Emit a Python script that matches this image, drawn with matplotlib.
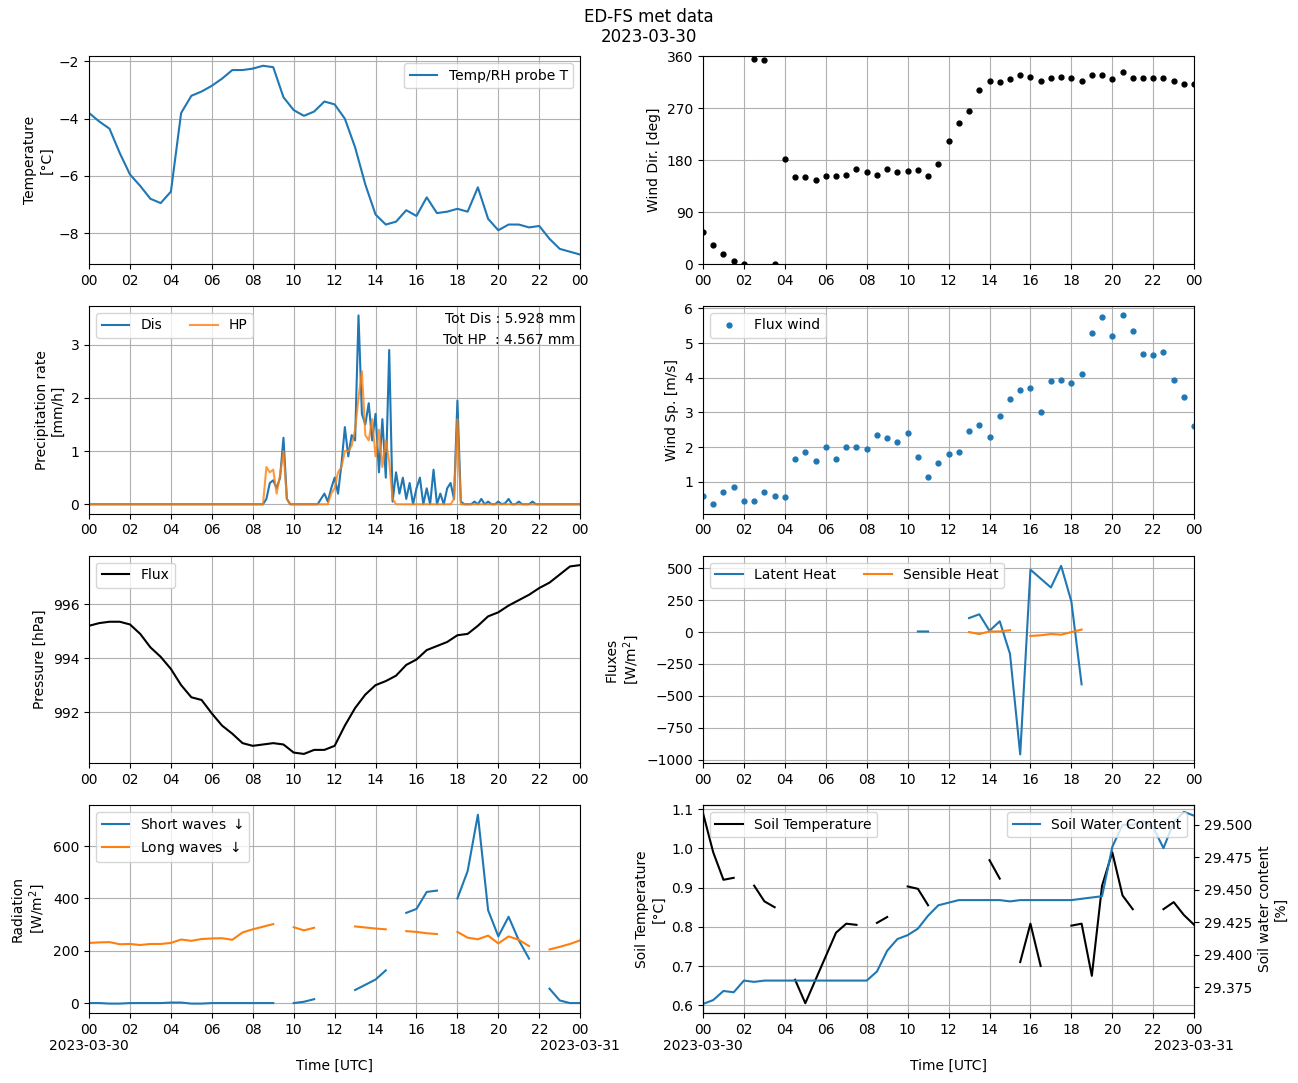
import numpy as np
import pandas as pd
import matplotlib
matplotlib.use("Agg")
import matplotlib.pyplot as plt
import matplotlib.dates as mdates
from matplotlib.ticker import FuncFormatter

nan = np.nan
t30 = pd.date_range("2023-03-30 00:00", "2023-03-31 00:00", freq="30min")

temp = [-3.8, -4.1, -4.35, -5.2, -5.95, -6.35, -6.8, -6.95, -6.55, -3.8, -3.2, -3.05, -2.85, -2.6,
        -2.3, -2.3, -2.25, -2.15, -2.2, -3.25, -3.7, -3.9, -3.75, -3.4, -3.5, -4.0, -5.0, -6.3,
        -7.35, -7.7, -7.6, -7.2, -7.4, -6.75, -7.3, -7.25, -7.15, -7.25, -6.4, -7.5, -7.9, -7.7,
        -7.7, -7.8, -7.75, -8.2, -8.55, -8.65, -8.75]

wdir = [55, 33, 18, 5, 0, 355, 353, 0, 182, 150, 150, 145, 153, 152, 155, 165, 160, 155, 165, 160,
        162, 163, 153, 173, 213, 245, 265, 302, 317, 315, 320, 328, 325, 318, 322, 325, 323, 317,
        327, 327, 320, 333, 322, 322, 322, 322, 318, 312, 312]

wspd = [0.6, 0.35, 0.7, 0.85, 0.45, 0.45, 0.7, 0.6, 0.55, 1.65, 1.85, 1.6, 2.0, 1.65, 2.0, 2.0,
        1.95, 2.35, 2.25, 2.15, 2.4, 1.7, 1.15, 1.55, 1.8, 1.85, 2.45, 2.65, 2.3, 2.9, 3.4, 3.65,
        3.7, 3.0, 3.9, 3.95, 3.85, 4.1, 5.3, 5.75, 5.2, 5.8, 5.35, 4.7, 4.65, 4.75, 3.95, 3.45, 2.6]

pres = [995.2, 995.3, 995.35, 995.35, 995.25, 994.9, 994.4, 994.05, 993.6, 993.0, 992.55, 992.45,
        991.95, 991.5, 991.2, 990.85, 990.75, 990.8, 990.85, 990.8, 990.5, 990.45, 990.6, 990.6,
        990.75, 991.5, 992.15, 992.65, 993.0, 993.15, 993.35, 993.75, 993.95, 994.3, 994.45, 994.6,
        994.85, 994.9, 995.2, 995.55, 995.7, 995.95, 996.15, 996.35, 996.6, 996.8, 997.1, 997.4, 997.45]

latent = [nan] * 21 + [5, 5, nan, nan, nan, 110, 140, 10, 85, -170, -960, 490, 420, 350, 520, 240,
                       -410] + [nan] * 11
sensible = [nan] * 26 + [0, -15, 5, 5, 15, nan, -30, -25, -15, -20, 0, 20] + [nan] * 11

sw = [0, 0, -2, -2, 0, 0, 0, 0, 2, 2, -2, -2, 0, 0, 0, 0, 0, 0, 0, nan, 0, 5, 15, nan, nan, nan,
      50, 70, 90, 125, nan, 345, 360, 425, 430, nan, 400, 505, 720, 355, 255, 330, 240, 170, nan,
      55, 10, 0, 0]
lw = [230, 232, 233, 225, 226, 222, 226, 226, 230, 243, 238, 245, 247, 248, 242, 270, 282, 292,
      302, nan, 290, 278, 288, nan, nan, nan, 293, 289, 285, 282, nan, 275, 272, 267, 264, nan,
      272, 250, 244, 258, 228, 255, 242, 218, nan, 205, 215, 226, 240]

soil_t = [1.09, 0.99, 0.92, 0.925, nan, 0.905, 0.865, 0.85, nan, 0.665, 0.605, 0.665, 0.725, 0.785,
          0.808, 0.805, nan, 0.81, 0.825, nan, 0.903, 0.897, 0.855, nan, nan, nan, nan, nan, 0.97,
          0.923, nan, 0.71, 0.808, 0.70, nan, nan, 0.803, 0.808, 0.675, 0.905, 0.99, 0.88, 0.845,
          nan, nan, 0.845, 0.863, 0.83, 0.805]
soil_w = [29.362, 29.365, 29.372, 29.371, 29.380, 29.379, 29.380, 29.380, 29.380, 29.380, 29.380,
          29.380, 29.380, 29.380, 29.380, 29.380, 29.380, 29.387, 29.403, 29.412, 29.415, 29.420,
          29.430, 29.438, 29.440, 29.442, 29.442, 29.442, 29.442, 29.442, 29.441, 29.442, 29.442,
          29.442, 29.442, 29.442, 29.442, 29.443, 29.444, 29.445, 29.483, 29.500, 29.500, 29.503,
          29.498, 29.482, 29.502, 29.510, 29.507]

# precipitation, 10-min steps from 08:30 to 22:00, zero outside
t_pr = pd.date_range("2023-03-30 08:30", "2023-03-30 22:00", freq="10min")
dis = [0, 0.1, 0.4, 0.45, 0.3, 0.5, 1.25, 0.1, 0, 0, 0, 0, 0, 0, 0, 0, 0, 0.1, 0.2, 0.05, 0.3, 0.5,
       0.2, 0.75, 1.45, 0.9, 1.3, 1.2, 3.55, 1.7, 1.5, 1.9, 1.2, 1.7, 0.6, 1.6, 0.5, 2.9, 0.05, 0.6,
       0.2, 0.5, 0.1, 0.4, 0, 0.3, 0.5, 0, 0.3, 0, 0.65, 0, 0.2, 0, 0.3, 0.4, 0.1, 1.95, 0.05, 0,
       0, 0, 0.05, 0, 0.1, 0, 0.05, 0, 0, 0.05, 0, 0.02, 0.1, 0, 0, 0.05, 0, 0, 0, 0.05, 0, 0]
hp = [0, 0.7, 0.6, 0.65, 0.2, 0.55, 1.0, 0.1, 0, 0, 0, 0, 0, 0, 0, 0, 0, 0, 0, 0, 0.2, 0.3, 0.6,
      0.7, 1.0, 1.0, 1.1, 1.4, 2.0, 2.5, 1.3, 1.2, 1.6, 0.9, 1.4, 0.7, 1.2, 0.8, 0.1, 0, 0, 0, 0,
      0, 0, 0, 0, 0, 0, 0, 0, 0, 0, 0, 0, 0, 0.1, 1.6, 0, 0, 0, 0, 0, 0, 0, 0, 0, 0, 0, 0, 0, 0,
      0, 0, 0, 0, 0, 0, 0, 0, 0, 0]
t_full = pd.date_range("2023-03-30 00:00", "2023-03-31 00:00", freq="10min")
dis_s = pd.Series(dis[:len(t_pr)], index=t_pr).reindex(t_full, fill_value=0)
hp_s = pd.Series(hp[:len(t_pr)], index=t_pr).reindex(t_full, fill_value=0)

t0, t1 = t30[0], t30[-1]

fig, axs = plt.subplots(4, 2, figsize=(12.98, 10.83), dpi=100)
fig.suptitle("ED-FS met data\n2023-03-30", y=0.993)


def fmt_bottom(x, pos):
    d = mdates.num2date(x)
    if d.hour == 0:
        return d.strftime("%H\n%Y-%m-%d")
    return d.strftime("%H")


for i, ax in enumerate(axs.flat):
    ax.set_xlim(t0, t1)
    ax.xaxis.set_major_locator(mdates.HourLocator(byhour=range(0, 24, 2)))
    if i >= 6:
        ax.xaxis.set_major_formatter(FuncFormatter(fmt_bottom))
        ax.set_xlabel("Time [UTC]")
    else:
        ax.xaxis.set_major_formatter(mdates.DateFormatter("%H"))
    ax.grid(True)

ax = axs[0, 0]
ax.plot(t30, temp, label="Temp/RH probe T")
ax.set_ylabel("Temperature\n[°C]")
ax.legend(loc="upper right")

ax = axs[0, 1]
ax.plot(t30, wdir, "k.", ms=7)
ax.set_ylim(0, 360)
ax.set_yticks([0, 90, 180, 270, 360])
ax.set_ylabel("Wind Dir. [deg]")

ax = axs[1, 0]
ax.plot(t_full, dis_s.values, label="Dis")
ax.plot(t_full, hp_s.values, label="HP", alpha=0.8)
ax.set_ylabel("Precipitation rate\n[mm/h]")
ax.legend(loc="upper left", ncol=2)
ax.text(0.99, 0.97, "Tot Dis : 5.928 mm\nTot HP  : 4.567 mm", transform=ax.transAxes,
        ha="right", va="top", linespacing=1.6)

ax = axs[1, 1]
ax.plot(t30, wspd, ".", ms=7, label="Flux wind")
ax.set_ylabel("Wind Sp. [m/s]")
ax.legend(loc="upper left")

ax = axs[2, 0]
ax.plot(t30, pres, "k", label="Flux")
ax.set_ylabel("Pressure [hPa]")
ax.legend(loc="upper left")

ax = axs[2, 1]
ax.plot(t30, latent, label="Latent Heat")
ax.plot(t30, sensible, label="Sensible Heat")
ax.set_ylabel("Fluxes\n[W/m$^2$]")
ax.set_ylim(-1030, 600)
ax.legend(loc="upper left", ncol=2)

ax = axs[3, 0]
ax.plot(t30, sw, label="Short waves $\\downarrow$")
ax.plot(t30, lw, label="Long waves $\\downarrow$")
ax.set_ylabel("Radiation\n[W/m$^2$]")
ax.legend(loc="upper left")

ax = axs[3, 1]
ax.plot(t30, soil_t, "k", label="Soil Temperature")
ax.set_ylabel("Soil Temperature\n[°C]")
ax.set_ylim(0.58, 1.11)
ax.legend(loc="upper left")
ax2 = ax.twinx()
ax2.plot(t30, soil_w, label="Soil Water Content")
ax2.set_ylabel("Soil water content\n[%]")
ax2.set_ylim(29.355, 29.515)
ax2.set_yticks([29.375, 29.4, 29.425, 29.45, 29.475, 29.5])
ax2.legend(loc="upper right")

fig.subplots_adjust(left=0.0686, right=0.920, top=0.948, bottom=0.0646, wspace=0.25, hspace=0.202)
fig.savefig("out.png")
